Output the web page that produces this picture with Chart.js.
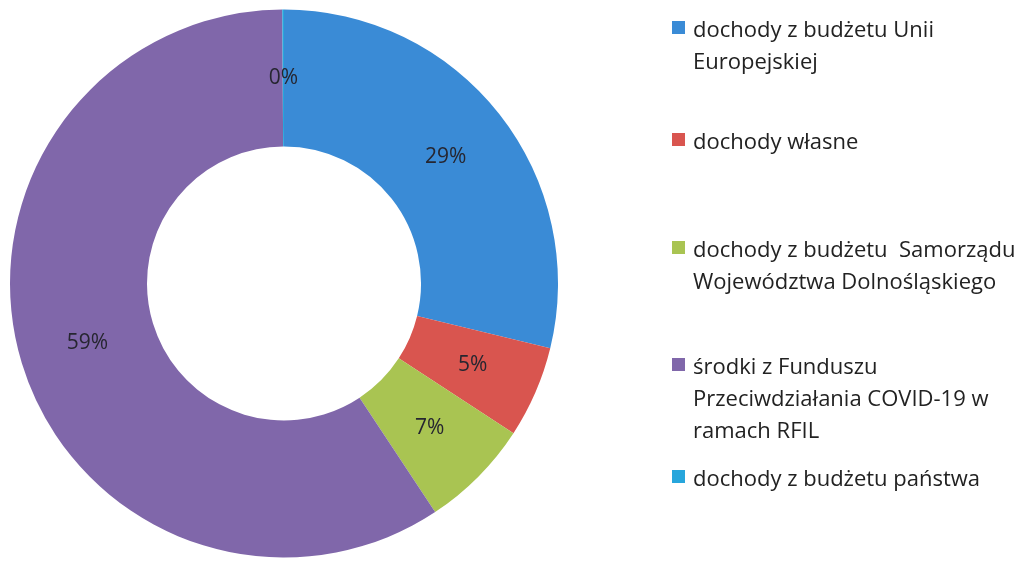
<!DOCTYPE html>
<html>
<head>
<meta charset="utf-8">
<script src="https://cdn.jsdelivr.net/npm/chart.js@4.4.0/dist/chart.umd.min.js"></script>
<style>
  html, body { margin: 0; padding: 0; background: #fff; }
  body { width: 1036px; height: 561px; position: relative; overflow: hidden; font-family: "Open Sans", sans-serif; }
  #wrap { position: absolute; left: 0; top: 0; width: 568px; height: 561px; }
  #legend { position: absolute; left: 0; top: 0; width: 1036px; height: 561px; pointer-events: none; }
  .item { position: absolute; left: 672px; color: #222; font-size: 22px; line-height: 32px; white-space: nowrap; }
  .sw { position: absolute; left: 0; top: 9px; width: 13px; height: 13px; }
  .txt { position: absolute; left: 21px; top: 0; }
</style>
</head>
<body>
<div id="wrap"><canvas id="c"></canvas></div>
<div id="legend"></div>
<script>
// ---- data ----
const categories = [
  ["dochody z budżetu Unii", "Europejskiej"],
  ["dochody własne"],
  ["dochody z budżetu  Samorządu", "Województwa Dolnośląskiego"],
  ["środki z Funduszu", "Przeciwdziałania COVID-19 w", "ramach RFIL"],
  ["dochody z budżetu państwa"]
];
const shares = [28.8, 5.4, 6.5, 59.2, 0.1];

// ---- styles / layout ----
const colors = ["#3a8bd6", "#d9554f", "#a9c452", "#8067aa", "#27a6dc"];
const legendTops = [12, 124, 232, 349, 461];

const total = shares.reduce((a, b) => a + b, 0);

const pctLabels = {
  id: 'pctLabels',
  afterDatasetsDraw(chart) {
    const ctx = chart.ctx;
    const meta = chart.getDatasetMeta(0);
    ctx.save();
    ctx.font = '21px "Open Sans", sans-serif';
    ctx.fillStyle = '#262630';
    ctx.textAlign = 'center';
    ctx.textBaseline = 'middle';
    meta.data.forEach((arc, i) => {
      const p = arc.tooltipPosition();
      const v = Math.round(shares[i] / total * 100);
      ctx.fillText(v + '%', p.x, p.y);
    });
    ctx.restore();
  }
};

new Chart(document.getElementById('c'), {
  type: 'doughnut',
  data: {
    labels: categories.map(l => l.join(' ')),
    datasets: [{
      data: shares,
      backgroundColor: colors,
      borderWidth: 0
    }]
  },
  options: {
    responsive: true,
    maintainAspectRatio: false,
    animation: false,
    cutout: '50%',
    layout: { padding: { top: 9, bottom: 3, left: 10, right: 10 } },
    plugins: {
      legend: { display: false },
      tooltip: { enabled: false }
    }
  },
  plugins: [pctLabels]
});

// HTML legend built from the data arrays
const leg = document.getElementById('legend');
categories.forEach((lines, i) => {
  const it = document.createElement('div');
  it.className = 'item';
  it.style.top = legendTops[i] + 'px';
  const sw = document.createElement('div');
  sw.className = 'sw';
  sw.style.background = colors[i];
  const tx = document.createElement('div');
  tx.className = 'txt';
  tx.innerHTML = lines.map(s => s.replace(/ {2}/g, ' &nbsp;')).join('<br>');
  it.appendChild(sw);
  it.appendChild(tx);
  leg.appendChild(it);
});
</script>
</body>
</html>
